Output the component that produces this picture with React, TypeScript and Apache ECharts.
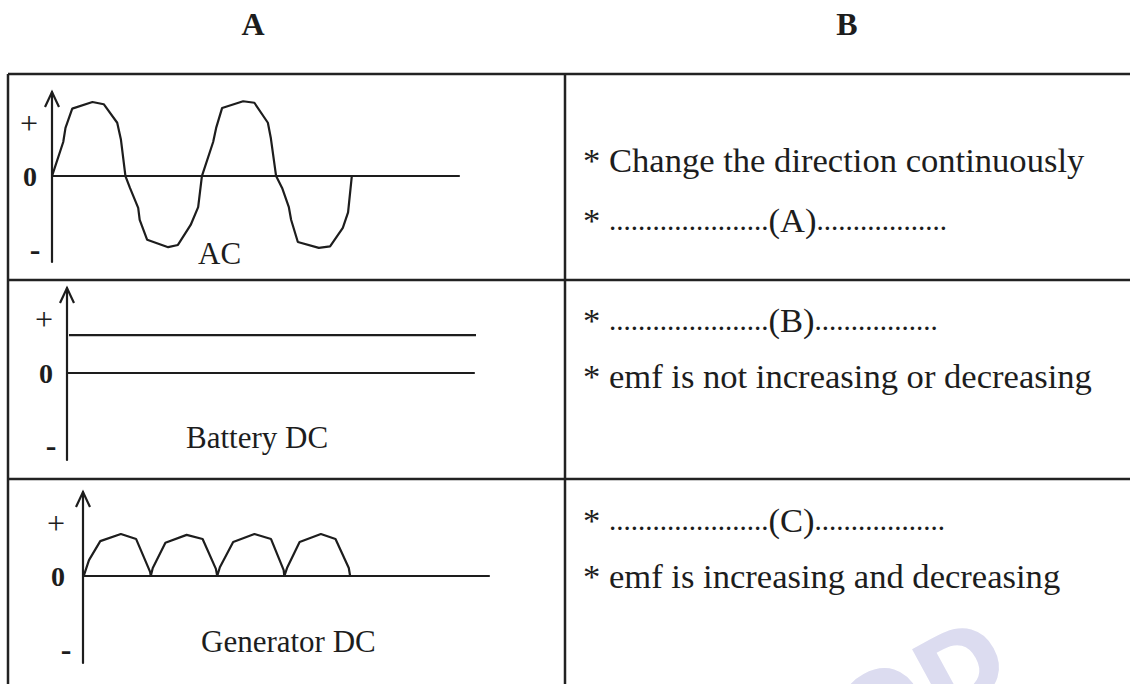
import React, { useEffect, useRef } from "react";
import * as echarts from "echarts";

// ---------- data ----------
const columnHeaders = ["A", "B"];
const waveNames = ["AC", "Battery DC", "Generator DC"];
const signLabels = ["+", "0", "-"];
const statements = [
  "* Change the direction continuously",
  "* emf is not increasing or decreasing",
  "* emf is increasing and decreasing",
];
const blanks = ["(A)", "(B)", "(C)"];
const leadDots = "......................";
const trailDots = ["..................", ".................", ".................."];
const watermarkText = "OD";

// AC: x in half-periods, y as a fraction of the peak emf
const acWave: [number, number][] = [
  [0, 0], [0.15, 0.46], [0.18, 0.65], [0.27, 0.91], [0.54, 1.0], [0.69, 0.97], [0.87, 0.72], [0.92, 0.49], [0.98, 0],
  [1.04, -0.16], [1.15, -0.43], [1.17, -0.59], [1.27, -0.86], [1.55, -0.96], [1.68, -0.93], [1.85, -0.66], [1.95, -0.42], [2.0, 0],
  [2.15, 0.46], [2.19, 0.65], [2.27, 0.92], [2.55, 1.01], [2.7, 0.99], [2.88, 0.72], [2.92, 0.51], [2.99, 0],
  [3.07, -0.16], [3.16, -0.42], [3.19, -0.59], [3.28, -0.89], [3.56, -0.97], [3.71, -0.95], [3.88, -0.7], [3.95, -0.49], [4.0, 0],
];

// Battery DC: constant emf level
const batteryLevel: [number, number][] = [
  [0.03, 1], [6.51, 1],
];

// Generator DC: rectified humps, x in half-periods, y as a fraction of the peak
const generatorWave: [number, number][] = [
  [0.01, 0], [0.09, 0.38], [0.26, 0.83], [0.57, 1.0], [0.8, 0.88], [1.01, 0.1], [1.02, 0],
  [1.05, 0.19], [1.24, 0.79], [1.56, 0.98], [1.8, 0.88], [2.0, 0.17], [2.02, 0],
  [2.06, 0.21], [2.26, 0.81], [2.58, 1.0], [2.83, 0.88], [3.02, 0.14], [3.03, 0],
  [3.07, 0.19], [3.26, 0.81], [3.58, 1.0], [3.8, 0.88], [4.0, 0.19], [4.02, 0],
];

const panelSeries = [acWave, batteryLevel, generatorWave];

// ---------- layout & style ----------
const FONT = '"Liberation Serif", "Times New Roman", serif';
const INK = "#1d1d1d";
const LINE = "#222222";

const panelLayouts = [
  { grid: { left: 52, top: 92, width: 407, height: 170 }, xMax: 5.43, yMin: -1.16, yMax: 1.135,
    name: { x: 198, y: 253 }, signs: [[29, 123], [30, 176], [35, 249]] },
  { grid: { left: 67, top: 288, width: 407, height: 172 }, xMax: 6.13, yMin: -2.29, yMax: 2.24,
    name: { x: 186, y: 437 }, signs: [[44, 319], [46, 373], [51, 445]] },
  { grid: { left: 83, top: 492, width: 406, height: 171 }, xMax: 6.11, yMin: -2.07, yMax: 2.0,
    name: { x: 201, y: 641 }, signs: [[56, 523], [58, 576], [66, 649]] },
];

const TABLE = { left: 8, mid: 565, right: 1130, top: 74, rows: [280, 479], bottom: 684 };
const headerPos = [[253, 24], [847, 24]];
const textX = 583;
// [statement y, blank y] per row
const rowTextY = [
  { statement: 160, blank: 220 },
  { statement: 376, blank: 320 },
  { statement: 576, blank: 520 },
];

function buildOption() {
  const grids = panelLayouts.map((p) => ({ ...p.grid, containLabel: false, outerBoundsMode: "none" }));
  const xAxes = panelLayouts.map((p, i) => ({
    type: "value", gridIndex: i, min: 0, max: p.xMax,
    axisLine: { show: true, onZero: true, lineStyle: { color: INK, width: 2.2 } },
    axisTick: { show: false }, axisLabel: { show: false }, splitLine: { show: false },
  }));
  const yAxes = panelLayouts.map((p, i) => ({
    type: "value", gridIndex: i, min: p.yMin, max: p.yMax,
    axisLine: { show: true, onZero: true, lineStyle: { color: INK, width: 2.2 } },
    axisTick: { show: false }, axisLabel: { show: false }, splitLine: { show: false },
  }));
  const series = panelSeries.map((data, i) => ({
    type: "line", xAxisIndex: i, yAxisIndex: i, data,
    symbol: "none", showSymbol: false, clip: false, smooth: false,
    lineStyle: { color: INK, width: 2.2 }, silent: true,
  }));
  return {
    animation: false,
    backgroundColor: "#ffffff",
    grid: grids, xAxis: xAxes, yAxis: yAxes, series,
  };
}

function staticGraphic() {
  const g: any[] = [];
  // watermark (cut off by the page edge, as in the source)
  g.push({
    type: "text", z: -10, x: 922, y: 690, rotation: 0.5, silent: true,
    style: { text: watermarkText, fontSize: 105, fontWeight: "bold", fontFamily: "DejaVu Sans",
      fill: "#dcdcf0", align: "center", verticalAlign: "middle" },
  });
  const line = (x1: number, y1: number, x2: number, y2: number) => ({
    type: "line", z: 5, silent: true,
    shape: { x1, y1, x2, y2 }, style: { stroke: LINE, lineWidth: 2.5 },
  });
  g.push(line(TABLE.left, TABLE.top, TABLE.right, TABLE.top));
  TABLE.rows.forEach((y) => g.push(line(TABLE.left, y, TABLE.right, y)));
  g.push(line(TABLE.left, TABLE.top, TABLE.left, TABLE.bottom));
  g.push(line(TABLE.mid, TABLE.top, TABLE.mid, TABLE.bottom));

  columnHeaders.forEach((h, i) => {
    g.push({ type: "text", z: 10, x: headerPos[i][0], y: headerPos[i][1],
      style: { text: h, fontSize: 32, fontWeight: "bold", fontFamily: FONT, fill: INK, align: "center", verticalAlign: "middle" } });
  });

  panelLayouts.forEach((p, i) => {
    g.push({ type: "text", z: 10, x: p.name.x, y: p.name.y,
      style: { text: waveNames[i], fontSize: 31, fontFamily: FONT, fill: INK, align: "left", verticalAlign: "middle" } });
    signLabels.forEach((s, k) => {
      g.push({ type: "text", z: 10, x: p.signs[k][0], y: p.signs[k][1],
        style: { text: s, fontSize: k === 0 ? 32 : k === 1 ? 28 : 32, fontWeight: k === 0 ? "normal" : "bold",
          fontFamily: FONT, fill: INK, align: "center", verticalAlign: "middle" } });
    });
  });

  rowTextY.forEach((r, i) => {
    g.push({ type: "text", z: 10, x: textX, y: r.statement,
      style: { text: statements[i], fontSize: 34.6, fontFamily: FONT, fill: INK, align: "left", verticalAlign: "middle" } });
    g.push({ type: "text", z: 10, x: textX, y: r.blank,
      style: {
        text: `{s|* }{d|${leadDots}}{s|${blanks[i]}}{d|${trailDots[i]}}`,
        align: "left", verticalAlign: "middle",
        rich: {
          s: { fontSize: 34.6, fontFamily: FONT, fill: INK },
          d: { fontSize: 29, fontFamily: FONT, fill: INK },
        },
      } });
  });
  return g;
}

export default function App() {
  const ref = useRef<HTMLDivElement>(null);
  useEffect(() => {
    if (!ref.current) return;
    const chart = echarts.init(ref.current, null, { renderer: "svg" });
    chart.setOption(buildOption());
    const arrows = panelLayouts.map((p, i) => {
      const pt = chart.convertToPixel({ gridIndex: i } as any, [0, p.yMax]) as number[];
      const px = pt[0], py = pt[1];
      return {
        type: "polyline", z: 10, silent: true,
        shape: { points: [[px - 7, py + 15], [px, py], [px + 7, py + 15]] },
        style: { stroke: INK, lineWidth: 2.2, fill: "none" },
      };
    });
    chart.setOption({ graphic: [...staticGraphic(), ...arrows] });
    return () => chart.dispose();
  }, []);
  return (
    <div
      ref={ref}
      style={{ position: "fixed", left: 0, top: 0, width: 1130, height: 684, background: "#fff" }}
    />
  );
}
